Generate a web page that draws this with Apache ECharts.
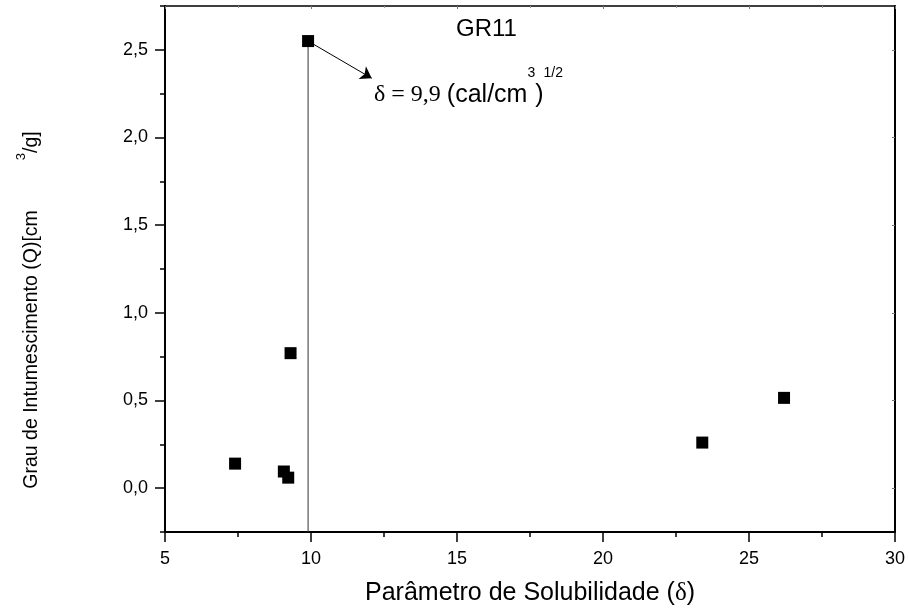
<!DOCTYPE html>
<html><head><meta charset="utf-8">
<script src="https://cdn.jsdelivr.net/npm/echarts@6/dist/echarts.min.js"></script>
<style>html,body{margin:0;padding:0;background:#fff}#c{width:909px;height:616px}</style>
</head><body><div id="c"></div>
<script>
// ---- data ----
const solubilityX = [9.9, 7.4, 9.07, 9.22, 9.3, 23.4, 26.2];
const swellingQ   = [2.55, 0.14, 0.095, 0.06, 0.77, 0.26, 0.515];
const xRange = [5, 30];
const yRange = [-0.25, 2.75];
const xTickStep = 5;
const yTickValues = [0, 0.5, 1, 1.5, 2, 2.5];
const yMinorTickValues = [-0.25, 0.25, 0.75, 1.25, 1.75, 2.25, 2.75];
const markedDelta = 9.9;
const markedQ = 2.55;
const arrowEnd = [12.08, 2.338];
const titleText = 'GR11';
const xName = ['Parâmetro de Solubilidade (', 'δ', ')'];
const yName = ['Grau de Intumescimento (Q)[cm', '3', '/g]'];
const noteText = ['δ = 9,9 ', '(cal/cm', '3', ')', '1/2'];

const SANS = '"Liberation Sans", Arial, Helvetica, sans-serif';
const SERIF = '"Liberation Serif", "Times New Roman", serif';
const fmt = v => v.toFixed(1).replace('.', ',');

const points = solubilityX.map((x, i) => [x, swellingQ[i]]);
const dropLine = [[markedDelta, yRange[0]], [markedDelta, markedQ]];

const chart = echarts.init(document.getElementById('c'));
chart.setOption({
  animation: false,
  backgroundColor: '#fff',
  title: {
    text: titleText, left: 456, top: 17, padding: 0,
    textStyle: {fontFamily: SANS, fontSize: 24, fontWeight: 'normal', color: '#000'}
  },
  grid: {left: 165, right: 14, top: 6, bottom: 84},
  xAxis: [{
    type: 'value', min: xRange[0], max: xRange[1], interval: xTickStep, position: 'bottom',
    axisLine: {show: true, onZero: false, lineStyle: {color: '#000', width: 2}},
    axisTick: {show: true, length: 10, lineStyle: {color: '#000', width: 1.5}},
    minorTick: {show: true, splitNumber: 2, length: 5, lineStyle: {color: '#000', width: 1.5}},
    splitLine: {show: false}, minorSplitLine: {show: false},
    axisLabel: {margin: 18, color: '#000', fontSize: 18, fontFamily: SANS},
    name: '{a|' + xName[0] + '}{d|' + xName[1] + '}{a|' + xName[2] + '}',
    nameLocation: 'middle', nameGap: 49,
    nameTextStyle: {
      rich: {
        a: {fontFamily: SANS, fontSize: 25, color: '#000'},
        d: {fontFamily: SERIF, fontSize: 25, color: '#000'}
      }
    }
  }, {
    type: 'value', min: xRange[0], max: xRange[1], interval: xTickStep, position: 'top',
    axisLine: {show: true, onZero: false, lineStyle: {color: '#000', width: 1.5}},
    axisTick: {show: true, inside: true, length: 3, lineStyle: {color: '#777', width: 1}},
    minorTick: {show: true, splitNumber: 2, length: 2, lineStyle: {color: '#999', width: 1}},
    splitLine: {show: false}, axisLabel: {show: false}
  }],
  yAxis: [{
    type: 'value', min: yRange[0], max: yRange[1], position: 'left',
    axisLine: {show: true, onZero: false, lineStyle: {color: '#000', width: 2}},
    axisTick: {show: true, length: 10, customValues: yTickValues, lineStyle: {color: '#000', width: 1.5}},
    axisLabel: {customValues: yTickValues, formatter: fmt, margin: 17, color: '#000', fontSize: 18, fontFamily: SANS},
    splitLine: {show: false},
    name: '{m|' + yName[0] + '}{g| }{s|' + yName[1] + '}{m|' + yName[2] + '}',
    nameLocation: 'middle', nameRotate: 90, nameGap: 117,
    nameTextStyle: {
      padding: [0, 82, 0, 0],
      rich: {
        m: {fontFamily: SANS, fontSize: 19.5, color: '#000'},
        g: {fontFamily: SANS, fontSize: 19.5, width: 50},
        s: {fontFamily: SANS, fontSize: 13, color: '#000', padding: [0, 0, 20, 0]}
      }
    }
  }, {
    type: 'value', min: yRange[0], max: yRange[1], position: 'left',
    axisLine: {show: false},
    axisTick: {show: true, length: 5, customValues: yMinorTickValues, lineStyle: {color: '#000', width: 1.5}},
    axisLabel: {show: false}, splitLine: {show: false}
  }, {
    type: 'value', min: yRange[0], max: yRange[1], position: 'right',
    axisLine: {show: true, onZero: false, lineStyle: {color: '#000', width: 2}},
    axisTick: {show: true, inside: true, length: 3, customValues: yTickValues, lineStyle: {color: '#777', width: 1}},
    axisLabel: {show: false}, splitLine: {show: false}
  }],
  graphic: [{
    type: 'text', left: 374, top: 66, z: 10,
    style: {
      text: '{d|' + noteText[0] + '}{a|' + noteText[1] + '}{s|' + noteText[2] + '}{a|' + noteText[3] + '}{s|' + noteText[4] + '}',
      rich: {
        d: {fontFamily: SERIF, fontSize: 24, fill: '#000'},
        a: {fontFamily: SANS, fontSize: 25, fill: '#000'},
        s: {fontFamily: SANS, fontSize: 14, fill: '#000', padding: [0, 0, 44, 0]}
      }
    }
  }],
  series: [{
    type: 'line', data: dropLine, xAxisIndex: 0, yAxisIndex: 0,
    symbol: 'none', silent: true, z: 3,
    lineStyle: {color: '#333', width: 1}
  }, {
    type: 'lines', coordinateSystem: 'cartesian2d', xAxisIndex: 0, yAxisIndex: 0,
    data: [{coords: [[markedDelta, markedQ], arrowEnd]}],
    symbol: ['none', 'arrow'], symbolSize: 11, silent: true, z: 4,
    lineStyle: {color: '#000', width: 1, opacity: 1}
  }, {
    type: 'scatter', data: points, xAxisIndex: 0, yAxisIndex: 0,
    symbol: 'rect', symbolSize: 12, z: 5,
    itemStyle: {color: '#000', opacity: 1}
  }]
});
</script>
</body></html>
